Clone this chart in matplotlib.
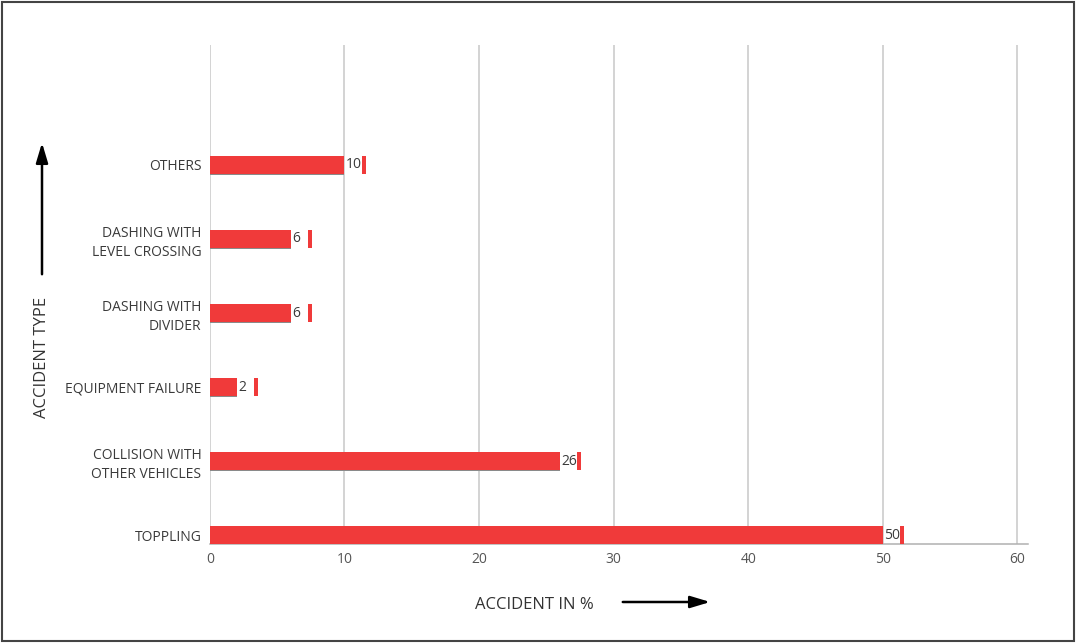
import matplotlib
matplotlib.use("Agg")
import matplotlib.pyplot as plt
from matplotlib.patches import Rectangle, FancyArrowPatch

plt.rcParams["font.family"] = ["Open Sans", "DejaVu Sans"]

categories = ["TOPPLING", "COLLISION WITH\nOTHER VEHICLES", "EQUIPMENT FAILURE",
              "DASHING WITH\nDIVIDER", "DASHING WITH\nLEVEL CROSSING", "OTHERS"]
values = [50, 26, 2, 6, 6, 10]
xticks = [0, 10, 20, 30, 40, 50, 60]

red = "#f03a3a"
grid = "#c8c8c8"
txt = "#3a3a3a"

fig = plt.figure(figsize=(10.76, 6.43), dpi=100)
ax = fig.add_axes([0.195, 0.154, 0.76, 0.776])

ys = list(range(len(categories)))
# faint shadow under the bars
ax.barh([y - 0.015 for y in ys], values, height=0.25, color="#8a8a8a", zorder=2)
ax.barh(ys, values, height=0.24, color=red, zorder=3)
# small marker after each value label
ax.barh(ys, [0.3] * len(values), left=[v + 1.3 for v in values], height=0.24,
        color=red, zorder=3)
for y, v in zip(ys, values):
    ax.text(v + 0.1, y, str(v), va="center", ha="left", fontsize=10,
            color=txt, zorder=4)

ax.set_xlim(0, 60.75)
ax.set_ylim(-0.12, 6.62)
ax.set_xticks(xticks)
ax.set_xticklabels([str(t) for t in xticks], fontsize=10, color="#555555")
ax.set_yticks(ys)
ax.set_yticklabels(categories, fontsize=10, color=txt, linespacing=1.4)
ax.tick_params(axis="both", length=0, pad=6)
ax.grid(axis="x", color=grid, lw=1.1, zorder=0)
for s in ["top", "right", "left"]:
    ax.spines[s].set_visible(False)
ax.spines["bottom"].set_color("#b0b0b0")
ax.spines["bottom"].set_linewidth(1.1)

# axis titles with arrows
arrow_style = "-|>,head_length=1.0,head_width=0.3"
fig.text(0.441, 0.059, "ACCIDENT IN %", fontsize=12, color="#333333",
         ha="left", va="center")
fig.patches.append(FancyArrowPatch((620 / 1076, 1 - 602 / 643), (713 / 1076, 1 - 602 / 643),
                                   transform=fig.transFigure, arrowstyle=arrow_style,
                                   mutation_scale=12, lw=1.8, color="black"))
fig.text(0.039, 1 - 357 / 643, "ACCIDENT TYPE", fontsize=12, color="#333333",
         rotation=90, ha="center", va="center")
fig.patches.append(FancyArrowPatch((42 / 1076, 1 - 277 / 643), (42 / 1076, 1 - 140 / 643),
                                   transform=fig.transFigure, arrowstyle=arrow_style,
                                   mutation_scale=12, lw=1.8, color="black"))

# outer frame
fig.patches.append(Rectangle((0.002, 0.003), 0.996, 0.994, transform=fig.transFigure,
                             fill=False, lw=1.5, edgecolor="#444444"))

fig.savefig("out.png", dpi=100)
